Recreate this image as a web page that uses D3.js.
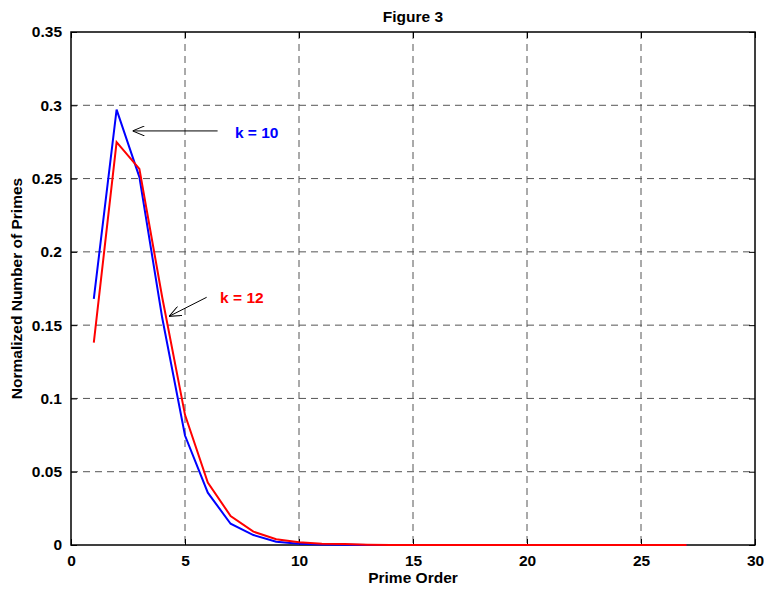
<!DOCTYPE html>
<html><head><meta charset="utf-8">
<script src="https://cdn.jsdelivr.net/npm/d3@7"></script>
<style>body{margin:0;background:#fff;}svg{display:block;font-family:"Liberation Sans",Arial,sans-serif;font-weight:bold;}</style>
</head><body>
<svg id="c" width="764" height="589"></svg>
<script>
const primeOrder = d3.range(1, 28);
const k10 = [0.168,0.297,0.251,0.155,0.0747,0.0357,0.0145,0.0068,0.0022,0.0008,0.0003,0.0001,0,0,0,0,0,0,0,0,0,0,0,0,0,0,0];
const k12 = [0.138,0.2748,0.2566,0.169,0.0888,0.0426,0.0198,0.0091,0.0039,0.0018,0.0008,0.0006,0.0002,0,0,0,0,0,0,0,0,0,0,0,0,0,0];
const xTicks = [0,5,10,15,20,25,30];
const yTicks = [0,0.05,0.1,0.15,0.2,0.25,0.3,0.35];
const yTickLabels = ["0","0.05","0.1","0.15","0.2","0.25","0.3","0.35"];
const seriesNames = ["k = 10","k = 12"];

const svg = d3.select("#c");
const L=71, R=755, T=32, B=545;
const FS = 15.5;
const x = d3.scaleLinear().domain([0,30]).range([L,R]);
const y = d3.scaleLinear().domain([0,0.35]).range([B,T]);

// grid
const g = svg.append("g").attr("stroke","#555").attr("stroke-width",1).attr("stroke-dasharray","7,5");
xTicks.slice(1,-1).forEach(t=>g.append("line").attr("x1",x(t)).attr("x2",x(t)).attr("y1",T).attr("y2",B));
yTicks.slice(1,-1).forEach(t=>g.append("line").attr("x1",L).attr("x2",R).attr("y1",y(t)).attr("y2",y(t)));

// axes
const ax = svg.append("g").attr("transform",`translate(0,${B})`).call(d3.axisBottom(x).tickValues(xTicks).tickSize(-6).tickPadding(10).tickFormat(d3.format("d")));
const axT = svg.append("g").attr("transform",`translate(0,${T})`).call(d3.axisTop(x).tickValues(xTicks).tickSize(-6).tickFormat(""));
const ay = svg.append("g").attr("transform",`translate(${L},0)`).call(d3.axisLeft(y).tickValues(yTicks).tickSize(-6).tickPadding(9).tickFormat((d,i)=>yTickLabels[i]));
const ayR = svg.append("g").attr("transform",`translate(${R},0)`).call(d3.axisRight(y).tickValues(yTicks).tickSize(-6).tickFormat(""));
[ax,axT,ay,ayR].forEach(a=>{a.select(".domain").remove();a.selectAll("line").attr("stroke","#000");a.selectAll("text").attr("font-size",FS).attr("font-weight","bold").attr("font-family","Liberation Sans, Arial, sans-serif").attr("fill","#000");});
svg.append("rect").attr("x",L).attr("y",T).attr("width",R-L).attr("height",B-T).attr("fill","none").attr("stroke","#000").attr("stroke-width",1.5);

// lines
const line = d3.line().x((d,i)=>x(primeOrder[i])).y(d=>y(d));
svg.append("path").datum(k10).attr("d",line).attr("fill","none").attr("stroke","#0000ff").attr("stroke-width",2);
svg.append("path").datum(k12).attr("d",line).attr("fill","none").attr("stroke","#ff0000").attr("stroke-width",2);

// annotations
const defs = svg.append("defs");
defs.append("marker").attr("id","ah").attr("viewBox","0 0 12 10").attr("refX",12).attr("refY",5).attr("markerWidth",12).attr("markerHeight",10).attr("markerUnits","userSpaceOnUse").attr("orient","auto")
  .append("path").attr("d","M0,0 L12,5 L0,10").attr("fill","none").attr("stroke","#000").attr("stroke-width",1);
svg.append("line").attr("x1",x(6.43)).attr("y1",y(0.2825)).attr("x2",x(2.7)).attr("y2",y(0.2825)).attr("stroke","#000").attr("stroke-width",1).attr("marker-end","url(#ah)");
svg.append("line").attr("x1",x(5.95)).attr("y1",y(0.169)).attr("x2",x(4.3)).attr("y2",y(0.156)).attr("stroke","#000").attr("stroke-width",1).attr("marker-end","url(#ah)");
svg.append("text").attr("x",x(7.19)).attr("y",y(0.2775)).attr("fill","#0000ff").attr("font-size",FS).text(seriesNames[0]);
svg.append("text").attr("x",x(6.54)).attr("y",y(0.165)).attr("fill","#ff0000").attr("font-size",FS).text(seriesNames[1]);

// titles
svg.append("text").attr("x",(L+R)/2).attr("y",22).attr("text-anchor","middle").attr("font-size",FS).text("Figure 3");
svg.append("text").attr("x",(L+R)/2).attr("y",583).attr("text-anchor","middle").attr("font-size",FS).text("Prime Order");
svg.append("text").attr("transform",`translate(22,${(T+B)/2}) rotate(-90)`).attr("text-anchor","middle").attr("font-size",FS).text("Normalized Number of Primes");
</script>
</body></html>
